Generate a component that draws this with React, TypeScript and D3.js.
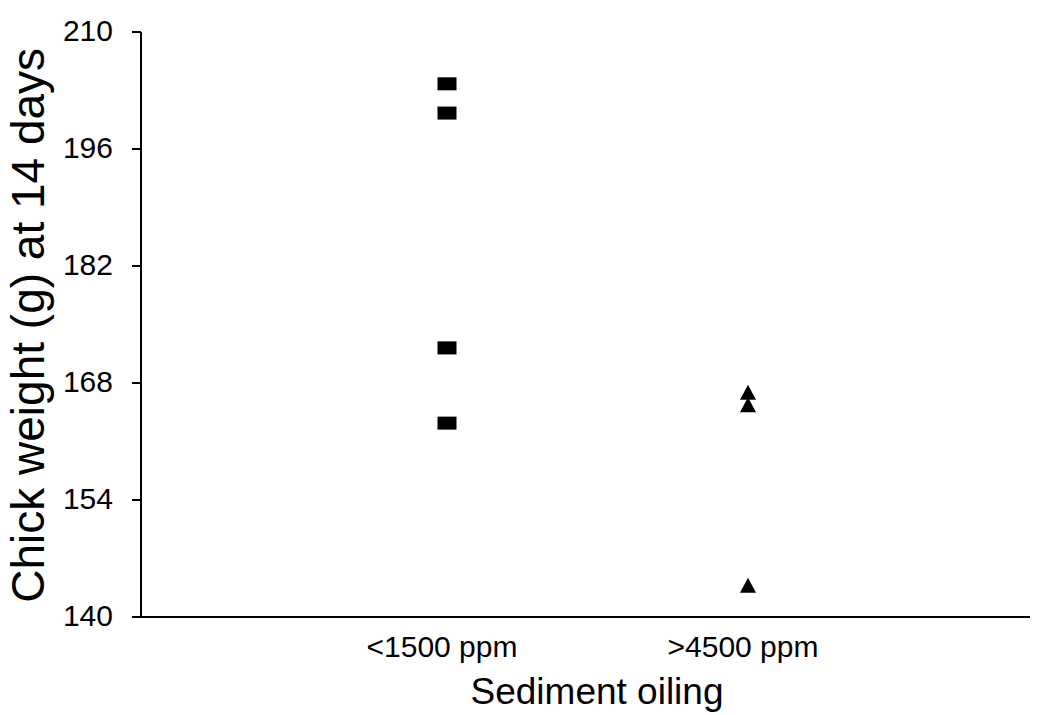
import React from "react";
import * as d3 from "d3";

const categories = ["<1500 ppm", ">4500 ppm"];
const lowOilWeights = [203.8, 200.3, 172.2, 163.2];
const highOilWeights = [166.9, 165.4, 143.8];
const yTicks = [140, 154, 168, 182, 196, 210];

const W = 1040;
const H = 715;
const font = "'Liberation Sans', Arial, Helvetica, sans-serif";

const App = () => {
  const yScale = d3.scaleLinear().domain([140, 210]).range([617, 32]);
  const xScale = d3.scalePoint().domain(categories).range([146, 1049]).padding(1);

  const axisLeft = 141;
  const axisRight = 1030;
  const axisBottom = yScale(140);

  const tri = (cx: number, cy: number) => {
    const w = 16;
    const h = 15;
    return `M${cx},${cy - h / 2}L${cx + w / 2},${cy + h / 2}L${cx - w / 2},${cy + h / 2}Z`;
  };

  return (
    <svg
      width={W}
      height={H}
      style={{ position: "absolute", left: 0, top: 0, background: "#fff" }}
      fontFamily={font}
    >
      {/* axes */}
      <line x1={axisLeft} x2={axisLeft} y1={yScale(210)} y2={axisBottom} stroke="#000" strokeWidth={2} />
      <line x1={axisLeft - 9} x2={axisRight} y1={axisBottom} y2={axisBottom} stroke="#000" strokeWidth={2} />
      {yTicks.map(t => (
        <g key={t}>
          <line x1={axisLeft - 9} x2={axisLeft} y1={yScale(t)} y2={yScale(t)} stroke="#000" strokeWidth={2} />
          <text x={113} y={yScale(t) - 2} dy="0.35em" textAnchor="end" fontSize={30}>
            {t}
          </text>
        </g>
      ))}
      {categories.map(c => (
        <text key={c} x={(xScale(c) as number) - 5} y={657} textAnchor="middle" fontSize={30}>
          {c}
        </text>
      ))}

      {/* titles */}
      <text x={597} y={704} textAnchor="middle" fontSize={37}>
        Sediment oiling
      </text>
      <text
        transform={`translate(44, ${yScale(174.9)}) rotate(-90)`}
        textAnchor="middle"
        fontSize={46}
      >
        Chick weight (g) at 14 days
      </text>

      {/* points */}
      {lowOilWeights.map((v, i) => (
        <rect
          key={i}
          x={(xScale(categories[0]) as number) - 9.5}
          y={yScale(v) - 6.5}
          width={19}
          height={13}
          fill="#000"
        />
      ))}
      {highOilWeights.map((v, i) => (
        <path key={i} d={tri(xScale(categories[1]) as number, yScale(v))} fill="#000" />
      ))}
    </svg>
  );
};

export default App;
